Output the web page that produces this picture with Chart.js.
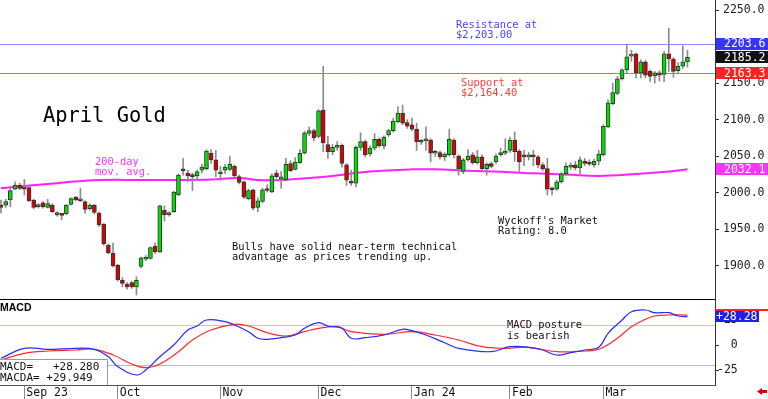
<!DOCTYPE html>
<html>
<head>
<meta charset="utf-8">
<script src="https://cdn.jsdelivr.net/npm/chart.js@4.4.1/dist/chart.umd.min.js"></script>
<style>
body { margin: 0; background: #fff; }
#wrap { position: relative; width: 768px; height: 399px; overflow: hidden; }
canvas { position: absolute; left: 0; }
#price { top: 0; }
#macd { top: 300px; }
</style>
</head>
<body>
<div id="wrap">
<canvas id="price" width="768" height="300"></canvas>
<canvas id="macd" width="768" height="99"></canvas>
</div>
<script>
// April gold daily bars, late Aug 2023 .. late Mar 2024
var opens = [
    1982,1983,1990,2005,2010,2007,2007,1990,1981,1986,
    1980,1983,1970,1971,1971,1984,1994,1989,1988,1978,
    1983,1972,1957,1928,1917,1901,1880,1875,1877,1871,
    1899,1909,1910,1927,1919,1976,1970,1974,1997,2031,
    2027,2024,2023,2031,2033,2054,2045,2026,2031,2032,
    2036,2022,2015,1992,2004,1980,1988,2005,2001,2027,
    2019,2018,2040,2032,2041,2054,2081,2085,2077,2113,
    2066,2056,2062,2065,2038,2016,2013,2062,2070,2053,
    2061,2073,2064,2079,2085,2097,2109,2096,2093,2087,
    2069,2071,2072,2054,2055,2049,2052,2072,2050,2029,
    2045,2052,2041,2049,2033,2040,2042,2052,2054,2058,
    2072,2057,2051,2049,2051,2049,2038,2033,2006,2005,
    2015,2026,2035,2038,2034,2043,2041,2038,2043,2052,
    2090,2122,2136,2156,2168,2187,2190,2164,2179,2166,
    2160,2164,2162,2190,2183,2167,2173,2179
];
var highs = [
    1990,1991,2006,2015,2013,2018,2008,1991,1985,1988,
    1991,1985,1974,1972,1984,1993,1995,2006,1989,1985,
    1984,1974,1958,1930,1931,1902,1884,1877,1879,1885,
    1912,1914,1926,1931,1983,1982,1974,2002,2026,2047,
    2031,2027,2031,2039,2059,2059,2058,2036,2039,2050,
    2038,2024,2016,2005,2005,1993,2006,2011,2026,2031,
    2029,2047,2044,2048,2059,2084,2090,2087,2114,2173,
    2077,2066,2070,2067,2040,2031,2064,2082,2072,2064,
    2081,2075,2078,2087,2102,2118,2120,2100,2102,2095,
    2073,2090,2074,2058,2057,2055,2087,2074,2052,2047,
    2059,2055,2058,2052,2041,2042,2053,2061,2074,2076,
    2083,2059,2058,2055,2058,2051,2041,2047,2008,2017,
    2028,2041,2041,2043,2049,2047,2045,2046,2058,2093,
    2127,2150,2159,2170,2203,2195,2191,2182,2181,2168,
    2166,2167,2193,2225,2185,2178,2201,2195
];
var lows = [
    1972,1980,1981,2004,2004,1997,1988,1978,1979,1979,
    1979,1973,1968,1963,1970,1983,1989,1988,1972,1976,
    1971,1954,1928,1916,1898,1879,1871,1868,1869,1860,
    1897,1907,1909,1917,1918,1961,1968,1973,1996,2024,
    2015,2003,2018,2027,2031,2040,2022,2017,2026,2030,
    2021,2012,1992,1990,1976,1974,1986,2001,2000,2020,
    2006,2016,2029,2031,2040,2053,2078,2071,2075,2056,
    2047,2052,2058,2035,2010,2010,2008,2058,2049,2050,
    2058,2062,2060,2077,2083,2096,2093,2088,2085,2058,
    2066,2058,2042,2050,2046,2044,2050,2048,2024,2026,
    2043,2039,2039,2031,2024,2034,2040,2050,2052,2055,
    2043,2029,2037,2045,2037,2034,2030,1997,1997,2003,
    2013,2023,2032,2031,2026,2037,2037,2035,2038,2050,
    2089,2120,2134,2154,2163,2180,2157,2157,2157,2152,
    2150,2153,2152,2166,2158,2163,2170,2172
];
var closes = [
    1980,1988,2003,2010,2006,2005,1989,1980,1983,1981,
    1985,1974,1972,1969,1983,1992,1990,1990,1977,1983,
    1973,1956,1930,1918,1900,1881,1876,1871,1871,1880,
    1911,1912,1925,1919,1982,1970,1972,2001,2024,2030,
    2023,2022,2029,2035,2057,2045,2031,2027,2035,2039,
    2023,2014,1994,2003,1979,1989,2004,2003,2023,2022,
    2020,2039,2030,2042,2054,2082,2085,2075,2112,2068,
    2056,2062,2065,2040,2017,2013,2062,2070,2052,2061,
    2073,2064,2076,2085,2098,2109,2095,2091,2087,2070,
    2071,2072,2054,2056,2049,2053,2073,2052,2033,2045,
    2050,2041,2049,2033,2039,2036,2050,2055,2057,2072,
    2056,2042,2049,2051,2049,2038,2033,2005,2004,2015,
    2026,2036,2036,2034,2045,2040,2039,2043,2053,2091,
    2123,2137,2156,2168,2186,2188,2164,2179,2161,2159,
    2164,2161,2190,2183,2166,2173,2179,2185.2
];

// 200-day moving average, read at these bar numbers
var maIdx = [0,10,20,30,38,45,51,56,63,71,79,88,93,100,108,114,121,128,136,143,147];
var maVals = [2006,2012,2017,2017.5,2017.5,2018,2020,2017,2018.7,2023,2029,2032,2032,2030,2028.5,2026.5,2025,2023,2025.6,2029,2032.1];

// MACD and its average (MACDA)
var macdIdx = [0,5,10,16,20,23,25,29,31,34,37,40,42,44,48,50,53,55,57,60,63,65,68,70,73,75,78,82,86,88,91,95,98,105,109,113,116,119,122,125,128,130,133,135,138,140,143,145,147];
var macdVals = [-13.3,-3.3,-4.3,-3.3,-4.3,-11.7,-21.7,-30,-25,-11.7,0,15,19,25,23.3,20,13.3,6.7,5.7,7.3,10,16.7,22.3,19,16.7,6.7,7.3,10,15.7,14.3,10,2.3,-3.3,-6.7,-1.7,-2.3,-5,-10,-7.7,-5,-2.3,11.7,25,33.3,35,32.3,32.3,29,28.28];
var sigIdx = [0,5,10,16,20,24,28,31,34,38,41,45,50,53,57,61,65,68,72,75,82,88,93,98,103,108,113,119,125,128,132,135,138,140,143,147];
var sigVals = [-15,-8.3,-6,-5,-4.3,-10,-19,-22.7,-19,-6.7,5,15,20.7,19,12.3,9,13.3,16.7,18.3,13.3,10.7,13.3,10,5,-1.7,-3.3,-2.3,-6.7,-6,-4.3,6.7,18.3,25.7,29,30,29.949];

var priceTicks = [1900,1950,2000,2050,2100,2150,2200,2250];
var macdTicks = [-25,0,25];
var macdBands = [20,-20];
var monthIdx = [5,25,47,68,88,109,129];
var monthLabels = ['Sep 23','Oct','Nov','Dec','Jan 24','Feb','Mar'];

var resistance = 2203.6, support = 2163.3, maLast = 2032.1;
var macdNow = 28.280, signalNow = 29.949;

var xMin = -0.214, xMax = 152.9;
var mono = '"DejaVu Sans Mono", monospace';

var pts = function (xs, ys) {
    return xs.map(function (v, k) { return {x: v, y: ys[k]}; });
};

var bodies = [], wicks = [], bodyColors = [];
for (var i = 0; i < closes.length; i++) {
    bodies.push({x: i, y: [opens[i], closes[i]]});
    wicks.push({x: i, y: [lows[i], highs[i]]});
    bodyColors.push(closes[i] >= opens[i] ? '#00e000' : '#dd0000');
}

var lines = function (ctx, arr, x, y, lh, color, font) {
    ctx.save();
    ctx.font = font;
    ctx.fillStyle = color;
    ctx.textAlign = 'left';
    ctx.textBaseline = 'alphabetic';
    arr.forEach(function (s, k) { ctx.fillText(s, x, y + k * lh); });
    ctx.restore();
};
var tag = function (ctx, text, yc, bg, x0, x1, h, pad) {
    ctx.save();
    ctx.fillStyle = bg;
    ctx.fillRect(x0, Math.round(yc - h / 2), x1 - x0, h);
    ctx.fillStyle = '#fff';
    ctx.font = '11.5px ' + mono;
    ctx.textBaseline = 'middle';
    ctx.fillText(text, x0 + pad, yc + 0.5);
    ctx.restore();
};
var hline = function (chart, v, color) {
    var c = chart.ctx, a = chart.chartArea;
    var y = Math.round(chart.scales.y.getPixelForValue(v)) + 0.5;
    c.save();
    c.strokeStyle = color;
    c.lineWidth = 1;
    c.beginPath();
    c.moveTo(a.left, y);
    c.lineTo(a.right, y);
    c.stroke();
    c.restore();
};

var price = function () {
    new Chart(document.getElementById('price'), {
        type: 'bar',
        data: {
            datasets: [{
                type: 'bar', data: bodies, backgroundColor: bodyColors,
                borderColor: '#333', borderWidth: 1, borderSkipped: false,
                barThickness: 4, minBarLength: 2, grouped: false, order: 0
            }, {
                type: 'bar', data: wicks, backgroundColor: '#8c8c8c',
                borderWidth: 0, barThickness: 1, grouped: false, order: 1
            }, {
                type: 'line', data: pts(maIdx, maVals), borderColor: '#ff22ff',
                borderWidth: 2, pointRadius: 0, tension: 0.4, order: 2
            }]
        },
        options: {
            responsive: false,
            animation: false,
            layout: {padding: 0},
            plugins: {legend: {display: false}, tooltip: {enabled: false}},
            scales: {
                x: {type: 'linear', min: xMin, max: xMax, display: false, offset: false},
                y: {
                    position: 'right', min: 1853.2, max: 2263.7,
                    afterBuildTicks: function (s) {
                        s.ticks = priceTicks.map(function (v) { return {value: v}; });
                    },
                    afterFit: function (s) { s.width = 53; s.paddingTop = 0; s.paddingBottom = 0; },
                    grid: {drawOnChartArea: false, tickLength: 4, color: '#333'},
                    border: {color: '#333'},
                    ticks: {
                        padding: 4, color: '#222', font: {family: mono, size: 11.5},
                        callback: function (v) { return v.toFixed(1); }
                    }
                }
            }
        },
        plugins: [{
            id: 'notes',
            beforeDatasetsDraw: function (chart) {
                hline(chart, resistance, '#8c8cff');
                hline(chart, support, '#f06060');
            },
            afterDraw: function (chart) {
                var c = chart.ctx, ys = chart.scales.y, f = '10.4px ' + mono;
                var last = closes[closes.length - 1];
                c.save();
                c.strokeStyle = '#000';
                c.lineWidth = 1;
                c.beginPath();
                c.moveTo(0, 299.5);
                c.lineTo(chart.chartArea.right, 299.5);
                c.stroke();
                c.restore();
                lines(c, ['April Gold'], 43, 121.7, 0, '#000', '20.4px ' + mono);
                lines(c, ['Resistance at', '$2,203.00'], 456, 28.3, 10, '#4646ff', f);
                lines(c, ['Support at', '$2,164.40'], 461, 86, 10, '#ff3c3c', f);
                lines(c, ['200-day', 'mov. avg.'], 95, 165, 10, '#ff33ff', f);
                lines(c, ["Wyckoff's Market", 'Rating: 8.0'], 498, 224, 10, '#111', f);
                lines(c, ['Bulls have solid near-term technical', 'advantage as prices trending up.'], 232, 250, 10, '#111', f);
                tag(c, resistance.toFixed(1), ys.getPixelForValue(resistance), '#3535ff', 716, 768, 12, 8);
                tag(c, last.toFixed(1), ys.getPixelForValue(last), '#111', 716, 768, 12, 8);
                tag(c, support.toFixed(1), ys.getPixelForValue(support), '#ff2222', 716, 768, 12, 8);
                tag(c, maLast.toFixed(1), ys.getPixelForValue(maLast), '#ff33ff', 716, 768, 12, 8);
            }
        }]
    });
};

var macd = function () {
    new Chart(document.getElementById('macd'), {
        type: 'line',
        data: {
            datasets: [{
                data: pts(macdIdx, macdVals), borderColor: '#2a2aff',
                borderWidth: 1.2, pointRadius: 0, tension: 0.4
            }, {
                data: pts(sigIdx, sigVals), borderColor: '#ff2a2a',
                borderWidth: 1.2, pointRadius: 0, tension: 0.4
            }]
        },
        options: {
            responsive: false,
            animation: false,
            layout: {padding: 0},
            plugins: {legend: {display: false}, tooltip: {enabled: false}},
            scales: {
                x: {
                    type: 'linear', min: xMin, max: xMax, position: 'bottom', offset: false,
                    afterBuildTicks: function (s) {
                        s.ticks = monthIdx.map(function (v) { return {value: v}; });
                    },
                    afterFit: function (s) { s.height = 14; s.paddingLeft = 0; s.paddingRight = 0; },
                    grid: {drawOnChartArea: false, tickLength: 14, color: '#8a8a8a'},
                    border: {color: '#555'},
                    ticks: {
                        align: 'start', labelOffset: 2, padding: -13, maxRotation: 0, autoSkip: false,
                        color: '#111', font: {family: mono, size: 11.5},
                        callback: function (v) { return monthLabels[monthIdx.indexOf(v)]; }
                    }
                },
                y: {
                    position: 'right', min: -40, max: 45,
                    afterBuildTicks: function (s) {
                        s.ticks = macdTicks.map(function (v) { return {value: v}; });
                    },
                    afterFit: function (s) { s.width = 53; s.paddingTop = 0; s.paddingBottom = 0; },
                    grid: {drawOnChartArea: false, tickLength: 4, color: '#333'},
                    border: {color: '#333'},
                    ticks: {
                        padding: -2, color: '#222', font: {family: mono, size: 11.5},
                        callback: function (v) { return String(v).padStart(3, ' '); }
                    }
                }
            }
        },
        plugins: [{
            id: 'macdNotes',
            beforeDatasetsDraw: function (chart) {
                hline(chart, macdBands[0], '#ffb4b4');
                hline(chart, macdBands[1], '#b4b4ff');
            },
            afterDraw: function (chart) {
                var c = chart.ctx, ys = chart.scales.y;
                var sigTop = Math.round(ys.getPixelForValue(signalNow) - 6);
                var macdTop = Math.round(ys.getPixelForValue(macdNow) - 5.5);
                lines(c, ['MACD'], 0, 10.7, 0, '#000', 'bold 10.5px "Liberation Sans"');
                lines(c, ['MACD posture', 'is bearish'], 507, 28.3, 11, '#111', '10.4px ' + mono);
                c.save();
                c.fillStyle = '#fff';
                c.fillRect(0, 59, 107, 26);
                c.strokeStyle = '#999';
                c.lineWidth = 1;
                c.beginPath();
                c.moveTo(0, 59.5);
                c.lineTo(107.5, 59.5);
                c.lineTo(107.5, 85);
                c.stroke();
                c.fillStyle = '#ff2020';
                c.fillRect(715, sigTop, 53, Math.max(macdTop - sigTop, 1));
                c.restore();
                lines(c, ['MACD=   +' + macdNow.toFixed(3), 'MACDA= +' + signalNow.toFixed(3)], 0, 70, 10.7, '#111', '11px ' + mono);
                tag(c, '+' + macdNow.toFixed(2), ys.getPixelForValue(macdNow), '#2020ee', 715, 759, 11, 1);
                c.save();
                c.fillStyle = '#e00000';
                c.beginPath();
                c.moveTo(757, 91.5);
                c.lineTo(762, 88);
                c.lineTo(762, 90);
                c.lineTo(767, 90);
                c.lineTo(767, 93);
                c.lineTo(762, 93);
                c.lineTo(762, 95);
                c.closePath();
                c.fill();
                c.restore();
            }
        }]
    });
};

window.onload = function () {
    price();
    macd();
};
</script>
</body>
</html>
